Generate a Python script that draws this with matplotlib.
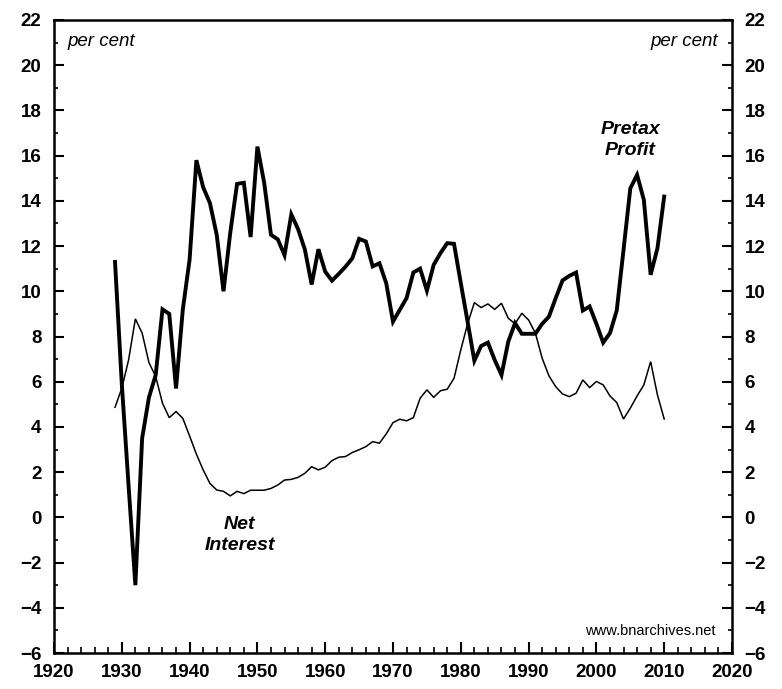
import matplotlib
matplotlib.use("Agg")
import matplotlib.pyplot as plt
from matplotlib.ticker import MultipleLocator, FuncFormatter

years = list(range(1929, 2011))

pretax_profit = [
    11.3, 5.9, 1.4, -3.0, 3.5, 5.3, 6.3, 9.2, 9.0, 5.7,
    9.2, 11.4, 15.8, 14.6, 13.9, 12.5, 10.0, 12.6, 14.75, 14.8,
    12.4, 16.4, 14.8, 12.5, 12.3, 11.6, 13.4, 12.75, 11.85, 10.3,
    11.86, 10.87, 10.47, 10.77, 11.09, 11.46, 12.32, 12.2, 11.1, 11.24,
    10.36, 8.66, 9.18, 9.7, 10.83, 11.0, 10.03, 11.17, 11.69, 12.13,
    12.1, 10.36, 8.66, 6.93, 7.58, 7.73, 6.96, 6.3, 7.77, 8.59,
    8.12, 8.12, 8.12, 8.56, 8.88, 9.7, 10.48, 10.68, 10.83, 9.15,
    9.33, 8.56, 7.73, 8.15, 9.15, 11.83, 14.55, 15.15, 14.04, 10.73,
    11.9, 14.19,
]

net_interest = [
    4.87, 5.71, 6.96, 8.78, 8.15, 6.85, 6.23, 5.05, 4.41, 4.68,
    4.38, 3.6, 2.8, 2.1, 1.5, 1.21, 1.15, 0.95, 1.15, 1.05,
    1.2, 1.2, 1.2, 1.28, 1.43, 1.65, 1.68, 1.77, 1.95, 2.24,
    2.1, 2.22, 2.51, 2.66, 2.69, 2.87, 2.99, 3.13, 3.35, 3.28,
    3.69, 4.19, 4.34, 4.27, 4.41, 5.27, 5.64, 5.31, 5.6, 5.67,
    6.15, 7.41, 8.56, 9.5, 9.28, 9.44, 9.2, 9.47, 8.81, 8.56,
    9.03, 8.73, 8.15, 7.04, 6.26, 5.78, 5.46, 5.34, 5.49, 6.08,
    5.74, 6.01, 5.86, 5.37, 5.08, 4.35, 4.83, 5.37, 5.86, 6.89,
    5.42, 4.35,
]

x_ticks = list(range(1920, 2021, 10))
y_ticks = list(range(-6, 23, 2))

plt.rcParams['font.family'] = ['Liberation Sans', 'DejaVu Sans']

fig = plt.figure(figsize=(7.82, 6.89), dpi=100)
ax = fig.add_axes([54/782, 1-653/689, (732-54)/782, (653-20)/689])

ax.plot(years, net_interest, color='black', lw=1.1, solid_joinstyle='miter')
ax.plot(years, pretax_profit, color='black', lw=2.8, solid_joinstyle='miter')

ax.set_xlim(1920, 2020)
ax.set_ylim(-6, 22)
ax.set_xticks(x_ticks)
ax.set_yticks(y_ticks)
ax.xaxis.set_minor_locator(MultipleLocator(2))
ax.yaxis.set_minor_locator(MultipleLocator(1))

fmt = FuncFormatter(lambda v, p: f"{int(v)}".replace('-', '\u2212'))
ax.yaxis.set_major_formatter(fmt)

ax.tick_params(axis='both', which='both', direction='in', colors='black')
ax.tick_params(axis='x', which='major', length=8, width=1.5, top=False, pad=8)
ax.tick_params(axis='x', which='minor', length=4, width=1.2, top=False)
ax.tick_params(axis='y', which='major', length=7, width=1.5, left=True, right=True,
               labelleft=True, labelright=True, pad=9)
ax.tick_params(axis='y', which='minor', length=3, width=1.2, left=True, right=True)

for lab in ax.get_xticklabels() + ax.get_yticklabels():
    lab.set_fontsize(13.5)
    lab.set_fontweight('bold')
for t in ax.yaxis.get_major_ticks():
    t.label2.set_fontsize(13.5)
    t.label2.set_fontweight('bold')

for s in ax.spines.values():
    s.set_linewidth(1.8)

ax.text(0.02, 0.98, 'per cent', transform=ax.transAxes, ha='left', va='top',
        fontsize=13.5, style='italic')
ax.text(0.98, 0.98, 'per cent', transform=ax.transAxes, ha='right', va='top',
        fontsize=13.5, style='italic')
ax.text(2005.0, 16.7, 'Pretax\nProfit', ha='center', va='center', fontsize=14,
        fontweight='bold', style='italic', linespacing=1.3)
ax.text(1947.4, -0.8, 'Net\nInterest', ha='center', va='center', fontsize=14,
        fontweight='bold', style='italic', linespacing=1.3)
ax.text(0.975, 0.035, 'www.bnarchives.net', transform=ax.transAxes, ha='right',
        va='center', fontsize=10.5)

fig.savefig('out.png', dpi=100)
